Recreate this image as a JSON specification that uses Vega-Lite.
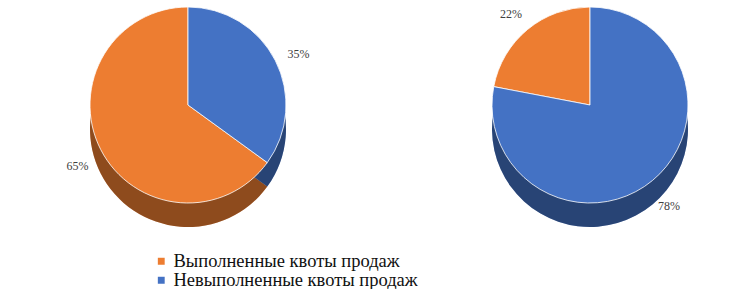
{
  "$schema": "https://vega.github.io/schema/vega-lite/v6.json",
  "padding": 0,
  "spacing": 55,
  "background": "white",
  "datasets": {
    "d": [
      {"chart": "A", "category": "Выполненные квоты продаж", "value": 0.65},
      {"chart": "A", "category": "Невыполненные квоты продаж", "value": 0.35},
      {"chart": "B", "category": "Выполненные квоты продаж", "value": 0.22},
      {"chart": "B", "category": "Невыполненные квоты продаж", "value": 0.78}
    ]
  },
  "config": {"view": {"stroke": null}, "font": "Liberation Serif"},
  "hconcat": [
    {
      "width": 376,
      "height": 210,
      "data": {"name": "d"},
      "transform": [{"filter": "datum.chart == 'A'"}],
      "encoding": {
        "theta": {"field": "value", "type": "quantitative", "stack": true},
        "order": {"field": "category", "sort": "descending"},
        "color": {
          "field": "category",
          "type": "nominal",
          "scale": {"domain": ["Выполненные квоты продаж", "Невыполненные квоты продаж"], "range": ["#ED7D31", "#4472C4"]},
          "legend": {"title": null, "orient": "none", "legendX": 152, "legendY": 252, "direction": "vertical", "symbolType": "square", "symbolSize": 70, "symbolOpacity": 1, "labelLimit": 0, "labelFont": "Liberation Serif", "labelFontSize": 18.5, "labelColor": "#111", "rowPadding": 0, "labelOffset": 3}
        }
      },
      "layer": [
        {"mark": {"type": "arc", "outerRadius": 98, "yOffset": 24}},
        {"mark": {"type": "arc", "outerRadius": 98, "yOffset": 24}, "encoding": {"color": {"value": "black"}, "opacity": {"value": 0.4}}},
        {"mark": {"type": "arc", "outerRadius": 98, "stroke": "white", "strokeWidth": 0.8}},
        {"mark": {"type": "text", "radius": 124, "fontSize": 12, "yOffset": 5, "font": "Liberation Serif"},
         "encoding": {"text": {"field": "value", "type": "quantitative", "format": ".0%"}, "color": {"value": "#404040"}}}
      ]
    },
    {
      "width": 318,
      "height": 210,
      "data": {"name": "d"},
      "transform": [{"filter": "datum.chart == 'B'"}],
      "encoding": {
        "theta": {"field": "value", "type": "quantitative", "stack": true},
        "order": {"field": "category", "sort": "descending"},
        "color": {"field": "category", "type": "nominal"}
      },
      "layer": [
        {"mark": {"type": "arc", "outerRadius": 98, "yOffset": 24}},
        {"mark": {"type": "arc", "outerRadius": 98, "yOffset": 24}, "encoding": {"color": {"value": "black"}, "opacity": {"value": 0.4}}},
        {"mark": {"type": "arc", "outerRadius": 98, "stroke": "white", "strokeWidth": 0.8}},
        {"mark": {"type": "text", "radius": 124, "fontSize": 12, "yOffset": 5, "font": "Liberation Serif"},
         "encoding": {"text": {"field": "value", "type": "quantitative", "format": ".0%"}, "color": {"value": "#404040"}}}
      ]
    }
  ],
  "resolve": {"scale": {"color": "shared"}}
}
